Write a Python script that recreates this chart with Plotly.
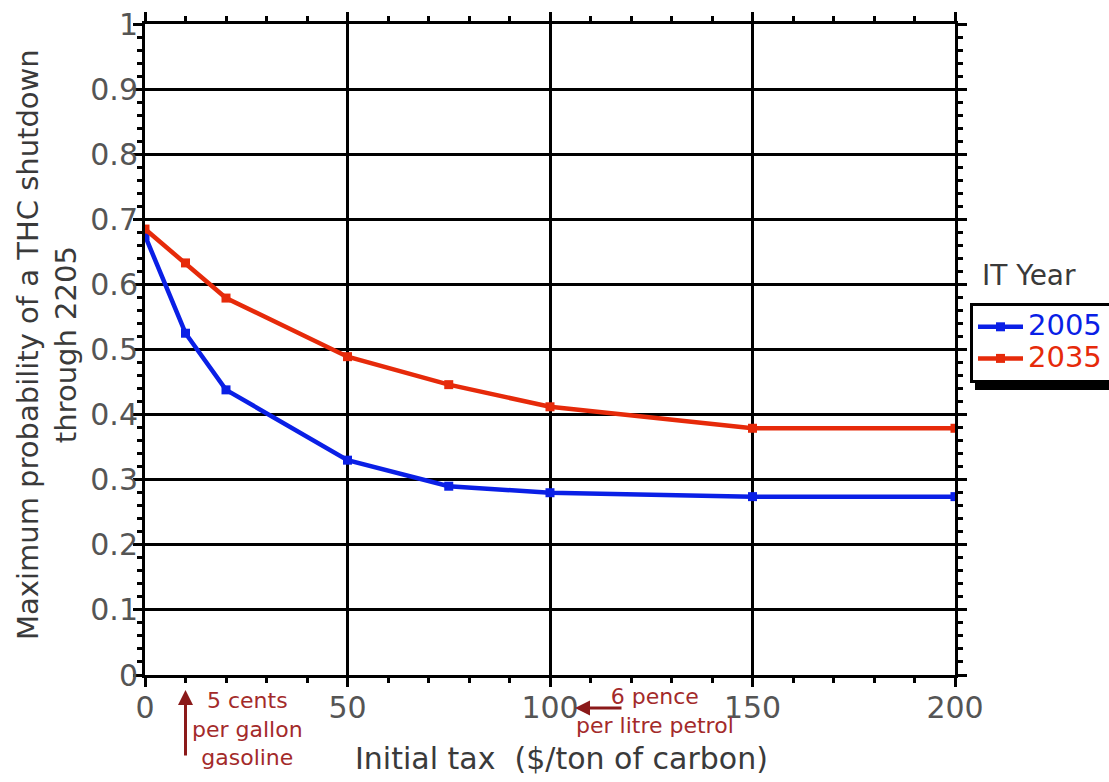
import plotly.graph_objects as go

tax = [0, 10, 20, 50, 75, 100, 150, 200]
p_2005 = [0.675, 0.525, 0.438, 0.330, 0.290, 0.280, 0.274, 0.274]
p_2035 = [0.685, 0.633, 0.579, 0.489, 0.446, 0.412, 0.379, 0.379]
series_names = ["2005", "2035"]
series_colors = ["#0a1fe6", "#e62a0a"]
x_ticks = [0, 50, 100, 150, 200]
y_ticks = [0, 0.1, 0.2, 0.3, 0.4, 0.5, 0.6, 0.7, 0.8, 0.9, 1]
y_ticktext = ["0", "0.1", "0.2", "0.3", "0.4", "0.5", "0.6", "0.7", "0.8", "0.9", "1"]

FONT = "DejaVu Sans"
W, H = 1109, 782
L, R, T, B = 145, 154, 24, 107
pw, ph = W - L - R, H - T - B


def px_x(p):
    return (p - L) / pw


def px_y(p):
    return (H - B - p) / ph


fig = go.Figure()
for name, ys, col in zip(series_names, [p_2005, p_2035], series_colors):
    fig.add_trace(go.Scatter(
        x=tax, y=ys, mode="lines+markers",
        name=f"<span style='color:{col};font-size:29px'>{name}</span>&nbsp;&nbsp;&nbsp;&nbsp;&nbsp;&nbsp;",
        line=dict(color=col, width=4.5),
        marker=dict(symbol="square", size=9, color=col),
    ))

axis_common = dict(
    showline=True, linecolor="black", linewidth=3, mirror="allticks",
    ticks="outside", ticklen=9, tickwidth=3, tickcolor="black",
    showgrid=True, gridcolor="black", gridwidth=2.5,
    zeroline=False,
    tickfont=dict(family=FONT, size=30, color="#555"),
)

fig.update_xaxes(range=[0, 200], tickvals=x_ticks, ticktext=[str(v) for v in x_ticks],
                 minor=dict(dtick=10, ticklen=5, tickwidth=2.5, tickcolor="black", showgrid=False, ticks="outside"),
                 ticklabelstandoff=-5,
                 **axis_common)
fig.update_yaxes(range=[0, 1], tickvals=y_ticks, ticktext=y_ticktext,
                 minor=dict(dtick=0.02, ticklen=5, tickwidth=2.5, tickcolor="black", showgrid=False, ticks="outside"),
                 ticklabelstandoff=-11,
                 **axis_common)

ann_color = "#a32a2a"
annotations = [
    dict(text="Maximum probability of a THC shutdown<br>through 2205", textangle=-90,
         xref="paper", yref="paper", x=px_x(47), y=px_y(345), xanchor="center", yanchor="middle",
         showarrow=False, font=dict(family=FONT, size=29, color="#3a3a3a")),
    dict(text="Initial tax  ($/ton of carbon)",
         xref="paper", yref="paper", x=px_x(561), y=px_y(759), xanchor="center", yanchor="middle",
         showarrow=False, font=dict(family=FONT, size=30, color="#3a3a3a")),
    dict(text="IT Year", xref="paper", yref="paper", x=px_x(980), y=px_y(275),
         xanchor="left", yanchor="middle", showarrow=False,
         font=dict(family=FONT, size=28, color="#3a3a3a")),
    dict(text="5 cents<br>per gallon<br>gasoline", xref="x", yref="paper",
         x=(247 - L) / pw * 200, y=px_y(729), xanchor="center", yanchor="middle",
         showarrow=False, font=dict(family=FONT, size=22, color=ann_color)),
    dict(text="6 pence<br>per litre petrol", xref="x", yref="paper",
         x=(655 - L) / pw * 200, y=px_y(711), xanchor="center", yanchor="middle",
         showarrow=False, font=dict(family=FONT, size=22, color=ann_color)),
    dict(text="", xref="x", yref="paper", x=10, y=px_y(690), ax=0, ay=67,
         showarrow=True, arrowhead=2, arrowsize=1, arrowwidth=3, arrowcolor="#8b1a1a"),
    dict(text="", xref="x", yref="paper", x=(575 - L) / pw * 200, y=px_y(708), ax=48, ay=0,
         showarrow=True, arrowhead=2, arrowsize=1, arrowwidth=3, arrowcolor="#8b1a1a"),
]

fig.update_layout(
    width=W, height=H,
    margin=dict(l=L, r=R, t=T, b=B, autoexpand=False),
    paper_bgcolor="white", plot_bgcolor="white",
    font=dict(family=FONT, color="#444"),
    annotations=annotations,
    showlegend=True,
    legend=dict(x=px_x(970), y=px_y(303), xanchor="left", yanchor="top",
                bordercolor="black", borderwidth=3, bgcolor="white",
                font=dict(family=FONT, size=22), tracegroupgap=0,
                itemwidth=45),
    shapes=[dict(type="rect", xref="paper", yref="paper",
                 x0=px_x(975), x1=px_x(1130), y0=px_y(390), y1=px_y(308),
                 fillcolor="black", line=dict(width=0), layer="above")],
)

fig.write_html("out.html")
